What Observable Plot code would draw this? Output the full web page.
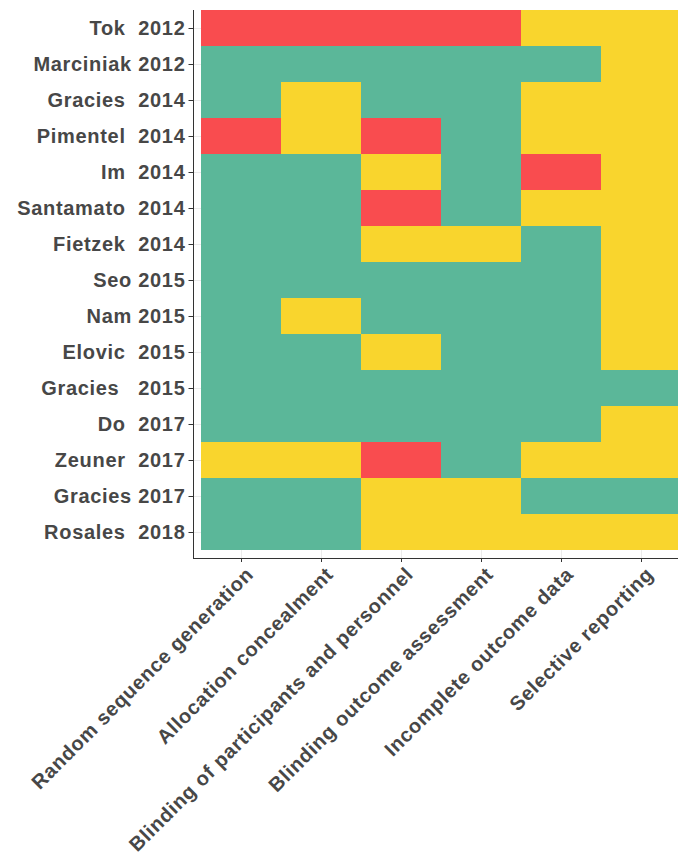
<!DOCTYPE html>
<html>
<head>
<meta charset="utf-8">
<script src="https://cdn.jsdelivr.net/npm/d3@7"></script>
<script src="https://cdn.jsdelivr.net/npm/@observablehq/plot@0.6"></script>
<style>
  html, body { margin: 0; padding: 0; background: #fff; overflow: hidden; }
  #chart svg { display: block; }
</style>
</head>
<body>
<div id="chart"></div>
<script>
// Study labels (y categories, top to bottom), spacing as printed
const studies = [
  "Tok  2012", "Marciniak 2012", "Gracies  2014", "Pimentel  2014", "Im  2014",
  "Santamato  2014", "Fietzek  2014", "Seo 2015", "Nam 2015", "Elovic  2015",
  "Gracies   2015", "Do  2017", "Zeuner  2017", "Gracies 2017", "Rosales  2018"
];
// Risk-of-bias domains (x categories)
const domains = [
  "Random sequence generation",
  "Allocation concealment",
  "Blinding of participants and personnel",
  "Blinding outcome assessment",
  "Incomplete outcome data",
  "Selective reporting"
];
// Risk levels and their colours
const riskLevels = ["Low", "Unclear", "High"];
const riskColors = ["#5BB799", "#F9D52D", "#F94C4F"];
// Judgements: one row per study, in the order of `domains`
const ratings = [
  ["High", "High", "High", "High", "Unclear", "Unclear"],
  ["Low", "Low", "Low", "Low", "Low", "Unclear"],
  ["Low", "Unclear", "Low", "Low", "Unclear", "Unclear"],
  ["High", "Unclear", "High", "Low", "Unclear", "Unclear"],
  ["Low", "Low", "Unclear", "Low", "High", "Unclear"],
  ["Low", "Low", "High", "Low", "Unclear", "Unclear"],
  ["Low", "Low", "Unclear", "Unclear", "Low", "Unclear"],
  ["Low", "Low", "Low", "Low", "Low", "Unclear"],
  ["Low", "Unclear", "Low", "Low", "Low", "Unclear"],
  ["Low", "Low", "Unclear", "Low", "Low", "Unclear"],
  ["Low", "Low", "Low", "Low", "Low", "Low"],
  ["Low", "Low", "Low", "Low", "Low", "Unclear"],
  ["Unclear", "Unclear", "High", "Low", "Unclear", "Unclear"],
  ["Low", "Low", "Unclear", "Unclear", "Low", "Low"],
  ["Low", "Low", "Unclear", "Unclear", "Unclear", "Unclear"]
];

const table = studies.flatMap((study, i) =>
  domains.map((domain, j) => ({study, domain, risk: ratings[i][j]}))
);

const textColor = "#474747";
const lineColor = "#333333";

const chart = Plot.plot({
  width: 678,
  height: 855,
  marginTop: 10,
  marginRight: 0,
  marginBottom: 297,
  marginLeft: 193,
  style: {
    fontFamily: "'Liberation Sans', Arial, sans-serif",
    fontSize: "20px",
    fontWeight: "bold",
    color: textColor,
    letterSpacing: "0.7px",
    background: "#fff",
    overflow: "hidden"
  },
  x: {type: "band", domain: domains, range: [200.7, 682], padding: 0, label: null},
  y: {type: "band", domain: studies, range: [6.1, 553.3], padding: 0, label: null},
  color: {type: "ordinal", domain: riskLevels, range: riskColors},
  marks: [
    Plot.gridY({stroke: "#EBEBEB", strokeOpacity: 1}),
    Plot.gridX({stroke: "#EBEBEB", strokeOpacity: 1}),
    Plot.cell(table, {x: "domain", y: "study", fill: "risk", inset: 0, clip: true}),
    Plot.frame({anchor: "left", stroke: lineColor}),
    Plot.frame({anchor: "bottom", stroke: lineColor}),
    Plot.axisY({
      tickSize: 4.5, tickPadding: 3.5, stroke: lineColor, fill: textColor, label: null,
      tickFormat: s => s.replace(/ /g, "\u00A0")
    }),
    Plot.axisX({tickSize: 4, stroke: lineColor, label: null, tickFormat: () => ""}),
    Plot.text(domains, {
      x: d => d, frameAnchor: "bottom", rotate: -45,
      textAnchor: "end", lineAnchor: "top", dx: 3, dy: 7, fill: textColor
    })
  ]
});
document.getElementById("chart").appendChild(chart);
</script>
</body>
</html>
